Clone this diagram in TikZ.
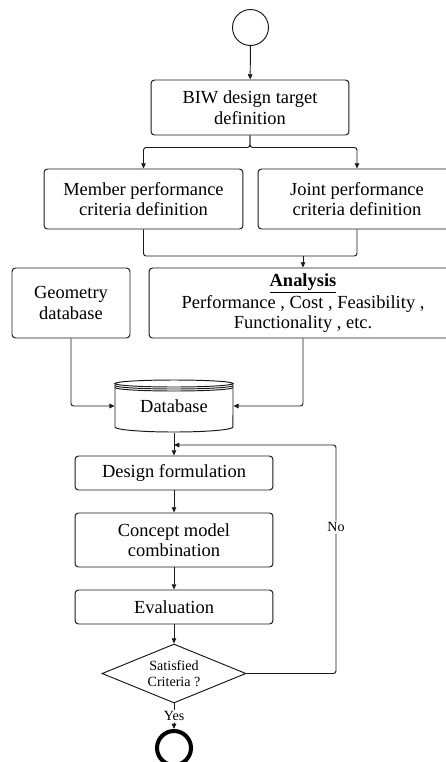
\documentclass[tikz,border=0pt]{standalone}
\usepackage{fontspec}
\setmainfont{Liberation Serif}
\usepackage{tikz}
\usetikzlibrary{shapes.geometric, arrows.meta, positioning, calc}
\definecolor{linegray}{HTML}{1A1A1A}

\tikzset{
  procbox/.style={draw=linegray, rounded corners=2pt, line width=0.55pt, align=center,
    inner sep=1pt, font=\fontsize{10.5}{11.6}\selectfont},
  smalltext/.style={font=\fontsize{8}{9}\selectfont},
  arr/.style={draw=linegray, line width=0.55pt, rounded corners=1.5pt, -{Triangle[length=3pt,width=2.6pt]}},
  link/.style={draw=linegray, line width=0.55pt, rounded corners=1.5pt}
}

\begin{document}
\begin{tikzpicture}[x=0.02cm, y=-0.02cm]
  \clip (0,0) rectangle (446,762);

  \node[draw=linegray, circle, line width=0.55pt, minimum size=0.72cm] (start) at (250.5,27.5) {};
  \node[procbox, minimum width=3.96cm, minimum height=1.1cm] (biw) at (250,107.5) {BIW design target\\definition};

  \node[procbox, minimum width=3.98cm, minimum height=1.2cm] (member) at (143.5,199) {Member performance\\criteria definition};
  \node[procbox, minimum width=3.96cm, minimum height=1.2cm] (joint) at (357,199) {Joint performance\\criteria definition};

  \node[procbox, minimum width=2.36cm, minimum height=1.4cm] (geo) at (71,303) {Geometry\\database};
  \node[procbox, minimum width=6.16cm, minimum height=1.4cm] (analysis) at (303,303)
    {\underline{\textbf{Analysis}}\\Performance , Cost , Feasibility ,\\Functionality , etc.};

  \node[font=\fontsize{10.5}{11.6}\selectfont, minimum width=2.36cm, minimum height=0.9cm, inner sep=0pt] (db) at (174,406) {Database};
  \draw[linegray, line width=0.55pt] (174,383.5) ellipse [x radius=1.18cm, y radius=0.07cm];
  \draw[linegray, line width=0.55pt] (115,385.5) arc[start angle=180, end angle=360, x radius=1.18cm, y radius=0.07cm];
  \draw[linegray, line width=0.55pt] (115,387.5) arc[start angle=180, end angle=360, x radius=1.18cm, y radius=0.07cm];
  \draw[linegray, line width=0.55pt] (115,383.5) -- (115,427) arc[start angle=180, end angle=360, x radius=1.18cm, y radius=0.1cm] -- (233,383.5);

  \node[procbox, minimum width=3.96cm, minimum height=0.68cm] (design) at (174,473) {Design formulation};
  \node[procbox, minimum width=3.96cm, minimum height=1.08cm] (concept) at (174,540) {Concept model\\combination};
  \node[procbox, minimum width=3.96cm, minimum height=0.68cm] (eval) at (174,607) {Evaluation};
  \node[draw=linegray, diamond, aspect=2.4, line width=0.55pt, inner sep=0pt, align=center,
    minimum width=2.88cm, minimum height=1.18cm, smalltext] (crit) at (174,673.5) {Satisfied\\Criteria ?};
  \node[draw=black, circle, line width=2.3pt, minimum size=0.68cm] (stop) at (174,748) {};

  \coordinate (merge) at (303,256);
  \coordinate (loop) at (336,445);
  \coordinate (join) at (174,445);

  \draw[arr] (start) -- (biw);
  \draw[arr] (biw.south) -- ++(0,12) -| (member.north);
  \draw[arr] (biw.south) -- ++(0,12) -| (joint.north);
  \draw[link] (member.south) |- (merge);
  \draw[link] (joint.south) |- (merge);
  \draw[arr] (merge) -- (analysis.north);
  \draw[arr] (geo.south) |- (db.west);
  \draw[arr] (analysis.south) |- (db.east);
  \draw[arr] (db.south) ++(0,4) -- (design.north);
  \draw[arr] (design) -- (concept);
  \draw[arr] (concept) -- (eval);
  \draw[arr] (eval) -- (crit);
  \draw[arr] (crit.east) -| (loop) node[pos=0.82, fill=white, inner sep=1pt, smalltext] (no) {No} -- (join);
  \draw[arr] (crit.south) -- (stop.north) node[pos=0.5, fill=white, inner sep=1pt, smalltext] (yes) {Yes};
\end{tikzpicture}
\end{document}
